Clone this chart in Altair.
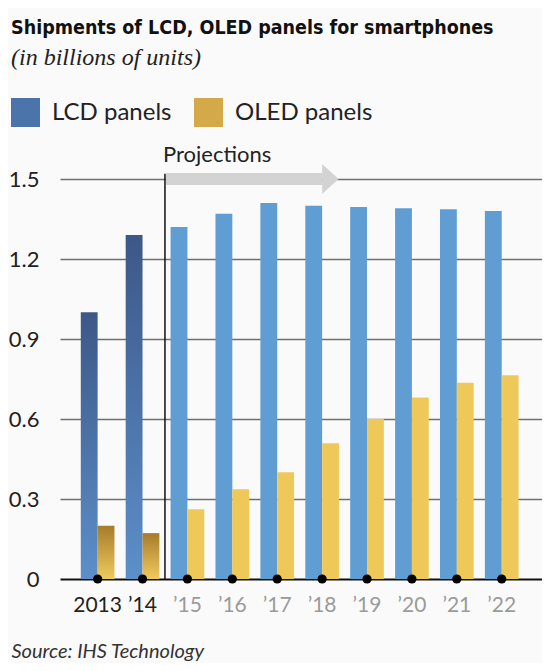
import altair as alt
import pandas as pd

years = ["2013", "’14", "’15", "’16", "’17", "’18", "’19", "’20", "’21", "’22"]
lcd = [1.00, 1.29, 1.32, 1.37, 1.41, 1.40, 1.395, 1.39, 1.387, 1.38]
oled = [0.20, 0.172, 0.262, 0.337, 0.40, 0.509, 0.60, 0.681, 0.736, 0.764]
periods = ["hist", "hist"] + ["proj"] * 8
series_names = ["LCD panels", "OLED panels"]
y_ticks = [0, 0.3, 0.6, 0.9, 1.2, 1.5]

rows = []
for yr, a, b, p in zip(years, lcd, oled, periods):
    rows.append({"year": yr, "series": "LCD panels", "value": a, "period": p})
    rows.append({"year": yr, "series": "OLED panels", "value": b, "period": p})
df = pd.DataFrame(rows)

blue = "#5f9dd3"
gold = "#eec95a"
blue_grad = alt.LinearGradient(gradient="linear", x1=0, y1=0, x2=0, y2=1,
                               stops=[alt.GradientStop(color="#3c5887", offset=0),
                                      alt.GradientStop(color="#5c8fc9", offset=1)])
gold_grad = alt.LinearGradient(gradient="linear", x1=0, y1=0, x2=0, y2=1,
                               stops=[alt.GradientStop(color="#a67b2c", offset=0),
                                      alt.GradientStop(color="#efca5e", offset=1)])

x_scale = alt.Scale(domain=years, paddingInner=0.25, paddingOuter=0.4925, align=0.47)
y_scale = alt.Scale(domain=[0, 1.5], nice=False, zero=True)

x_axis = alt.Axis(title="Source: IHS Technology", titleFont="Lato", titleFontStyle="italic",
                  titleFontWeight="normal", titleFontSize=20, titleColor="#333",
                  titleAnchor="start", titleAlign="left", titleBaseline="alphabetic",
                  titleX=-49, titleY=78,
                  labelFont="Lato", labelFontSize=21, labelPadding=15, labelAngle=0,
                  labelColor=alt.expr("datum.value == '2013' || datum.value == '’14' ? '#222' : '#9a9a9a'"),
                  domain=False, ticks=False, grid=False)
y_axis = alt.Axis(title=None, values=y_ticks, labelFont="Lato", labelFontSize=22,
                  labelColor="#222", labelPadding=21, ticks=False, domain=False,
                  labelExpr="datum.value == 0 ? '0' : format(datum.value, '.1f')",
                  gridColor=alt.expr("datum.value == 0 ? '#111' : '#707070'"),
                  gridWidth=alt.expr("datum.value == 0 ? 2 : 1.5"))

base = alt.Chart(df)
enc = dict(
    x=alt.X("year:N", scale=x_scale, axis=x_axis, sort=years),
    y=alt.Y("value:Q", scale=y_scale, axis=y_axis),
    xOffset=alt.XOffset("series:N", sort=series_names, scale=alt.Scale(paddingInner=0, paddingOuter=0)),
)

hist_lcd = base.mark_bar(color=blue_grad).encode(**enc).transform_filter(
    "datum.series == 'LCD panels' && datum.period == 'hist'")
hist_oled = base.mark_bar(color=gold_grad).encode(**enc).transform_filter(
    "datum.series == 'OLED panels' && datum.period == 'hist'")
proj_lcd = base.mark_bar(color=blue).encode(**enc).transform_filter(
    "datum.series == 'LCD panels' && datum.period == 'proj'")
proj_oled = base.mark_bar(color=gold).encode(**enc).transform_filter(
    "datum.series == 'OLED panels' && datum.period == 'proj'")

legend_layer = base.mark_square().encode(
    x=alt.X("year:N", scale=x_scale, sort=years),
    y=alt.Y("value:Q", scale=y_scale),
    color=alt.Color("series:N", scale=alt.Scale(domain=series_names, range=["#4a74aa", "#d4a94a"]),
                    legend=alt.Legend(title=None, orient="none", legendX=-49, legendY=-81,
                                      direction="horizontal", symbolType="square", symbolSize=841,
                                      symbolStrokeWidth=0, symbolOpacity=1, labelFont="Lato",
                                      labelFontSize=24, labelColor="#222", labelOffset=12,
                                      columnPadding=22, padding=0)),
).transform_filter("false")

dots = base.mark_circle(size=85, color="black", opacity=1).encode(
    x=alt.X("year:N", scale=x_scale, sort=years),
    y=alt.Y(datum=0, scale=y_scale),
).transform_filter("datum.series == 'LCD panels'")

ann = pd.DataFrame({"start": ["’14"], "end": ["’18"], "label": ["Projections"]})
ann_base = alt.Chart(ann)
gap = 5.6  # half of the inner padding between bands

proj_line = ann_base.mark_rule(color="#111", strokeWidth=1.5, xOffset=gap).encode(
    x=alt.X("start:N", scale=x_scale, bandPosition=1),
    y=alt.Y(datum=0, scale=y_scale),
    y2=alt.datum(1.52),
)
arrow_shaft = ann_base.mark_rule(color="#d3d3d3", strokeWidth=12, strokeCap="butt",
                                 xOffset=gap + 1, x2Offset=0).encode(
    x=alt.X("start:N", scale=x_scale, bandPosition=1),
    x2=alt.X2("end:N", bandPosition=0.5),
    y=alt.Y(datum=1.5, scale=y_scale),
)
arrow_head = ann_base.mark_point(shape="M0,-1L1.1,0L0,1Z", size=900, filled=True,
                                 color="#d3d3d3", opacity=1, strokeWidth=0).encode(
    x=alt.X("end:N", scale=x_scale),
    y=alt.Y(datum=1.5, scale=y_scale),
)
proj_text = ann_base.mark_text(align="left", baseline="alphabetic", dy=-17, dx=gap - 2,
                               font="Lato", fontSize=22, color="#222").encode(
    x=alt.X("start:N", scale=x_scale, bandPosition=1),
    y=alt.Y(datum=1.5, scale=y_scale),
    text="label:N",
)

chart = alt.layer(
    hist_lcd, hist_oled, proj_lcd, proj_oled, legend_layer,
    arrow_shaft, arrow_head, proj_line, proj_text, dots,
).properties(
    width=482, height=400,
    autosize="none",
    padding={"left": 52, "top": 171, "right": 0, "bottom": 84},
    background="#fafafa",
    title=alt.TitleParams(
        text="Shipments of LCD, OLED panels for smartphones",
        subtitle="(in billions of units)",
        anchor="start", frame="group", orient="top", offset=27, dx=-49,
        font="DejaVu Sans Condensed", fontSize=19.5, fontWeight="bold", color="#111",
        subtitleFont="Liberation Serif", subtitleFontStyle="italic", subtitleFontSize=24,
        subtitleColor="#222", subtitlePadding=8,
    ),
).configure_view(stroke=None)

chart.save("out.html", embed_options={"renderer": "svg", "actions": False})
